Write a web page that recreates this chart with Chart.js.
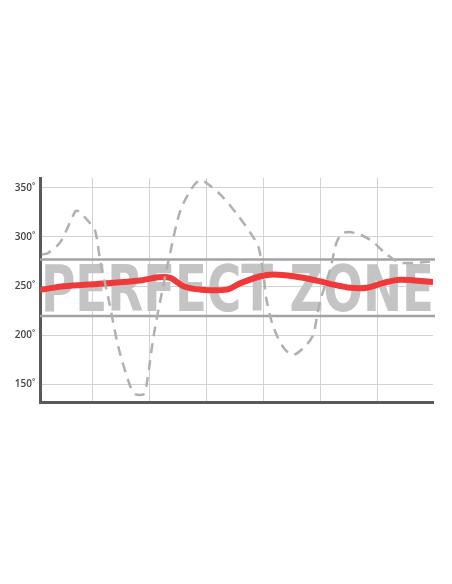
<!DOCTYPE html>
<html>
<head>
<meta charset="utf-8">
<script src="https://cdn.jsdelivr.net/npm/chart.js@4"></script>
<style>
    html, body { margin: 0; padding: 0; background: #fff; }
    #wrap { width: 452px; height: 584px; }
</style>
</head>
<body>
<div id="wrap"><canvas id="tempChart" width="452" height="584"></canvas></div>
<script>
// Temperature readings (x in gridline units, y in degrees)
const dashedX = [-0.89, -0.77, -0.56, -0.30, -0.24, -0.04, 0.05, 0.14, 0.29, 0.46, 0.67, 0.75, 0.90, 0.96, 1.08, 1.25, 1.37, 1.54, 1.75, 1.89, 1.98, 2.25, 2.54, 2.80, 2.92, 3.01, 3.06, 3.18, 3.36, 3.53, 3.77, 3.88, 3.94, 4.00, 4.18, 4.29, 4.41, 4.61, 4.88, 5.17, 5.40, 5.75, 5.96];
const dashedY = [282, 284, 295, 326, 326, 314, 306, 275, 235, 187, 147, 140, 140, 153, 201, 252, 285, 326, 350, 358, 356, 343, 323, 302, 289, 258, 235, 208, 187, 180, 191, 201, 218, 235, 268, 295, 304, 304, 297, 282, 274, 274, 275];

const redX = [-0.89, -0.50, 0.08, 0.84, 1.16, 1.37, 1.60, 1.89, 2.36, 2.60, 2.95, 3.18, 3.53, 3.94, 4.23, 4.53, 4.82, 5.11, 5.40, 5.96];
const redY = [246.4, 249.8, 252.2, 255.6, 259, 258.3, 249.8, 246.4, 246.4, 253, 260, 261.7, 260, 255.6, 251.5, 248.2, 248.2, 253.2, 256.5, 254.2];

const yTicks = [150, 200, 250, 300, 350];
const xTicks = [0, 1, 2, 3, 4, 5];
const zoneTop = 277;
const zoneBottom = 219.5;
const zoneLabel = 'PERFECT ZONE';

function toPoints(xs, ys) {
    return xs.map((x, i) => ({ x: x, y: ys[i] }));
}

// Draw the perfect zone band and its label behind the lines
const zonePlugin = {
    id: 'zone',
    beforeDatasetsDraw(chart) {
        const ctx = chart.ctx;
        const area = chart.chartArea;
        const yScale = chart.scales.y;
        const yTop = yScale.getPixelForValue(zoneTop);
        const yBot = yScale.getPixelForValue(zoneBottom);
        ctx.save();
        ctx.fillStyle = '#c4c4c4';
        ctx.font = 'bold 64px "DejaVu Sans Condensed", "Liberation Sans Narrow", sans-serif';
        ctx.textBaseline = 'alphabetic';
        ctx.textAlign = 'left';
        ctx.fillText(zoneLabel, area.left + 1, yBot - 5, area.right - area.left);
        ctx.strokeStyle = '#a3a3a3';
        ctx.lineWidth = 2.5;
        ctx.beginPath();
        ctx.moveTo(area.left, yTop);
        ctx.lineTo(area.right + 2, yTop);
        ctx.moveTo(area.left, yBot);
        ctx.lineTo(area.right + 2, yBot);
        ctx.stroke();
        ctx.restore();
    }
};

const ctx = document.getElementById('tempChart').getContext('2d');
new Chart(ctx, {
    type: 'line',
    data: {
        datasets: [{
            data: toPoints(dashedX, dashedY),
            borderColor: '#b0b0b0',
            borderWidth: 2.5,
            borderDash: [10, 7],
            pointRadius: 0,
            tension: 0.3,
            fill: false
        }, {
            data: toPoints(redX, redY),
            borderColor: '#f03a3a',
            borderWidth: 6,
            borderCapStyle: 'round',
            pointRadius: 0,
            tension: 0.35,
            fill: false
        }]
    },
    options: {
        responsive: false,
        animation: false,
        layout: { padding: { top: 178, right: 19, left: 0, bottom: 0 } },
        plugins: {
            legend: { display: false },
            tooltip: { enabled: false }
        },
        scales: {
            x: {
                type: 'linear',
                min: -0.92,
                max: 5.98,
                afterBuildTicks: (scale) => { scale.ticks = xTicks.map(v => ({ value: v })); },
                afterFit: (scale) => { scale.height = 182; },
                ticks: { display: false },
                grid: { color: '#d2d2d2', lineWidth: 1, drawTicks: false },
                border: { color: '#5a5a5a', width: 3 }
            },
            y: {
                min: 132,
                max: 360,
                afterBuildTicks: (scale) => { scale.ticks = yTicks.map(v => ({ value: v })); },
                afterFit: (scale) => { scale.width = 40; },
                ticks: {
                    color: '#444',
                    padding: 5,
                    font: { family: '"Open Sans", sans-serif', size: 10, weight: '600' },
                    callback: (v) => v + '˚'
                },
                grid: { color: '#d2d2d2', lineWidth: 1, drawTicks: false },
                border: { color: '#5a5a5a', width: 3 }
            }
        }
    },
    plugins: [zonePlugin]
});
</script>
</body>
</html>
